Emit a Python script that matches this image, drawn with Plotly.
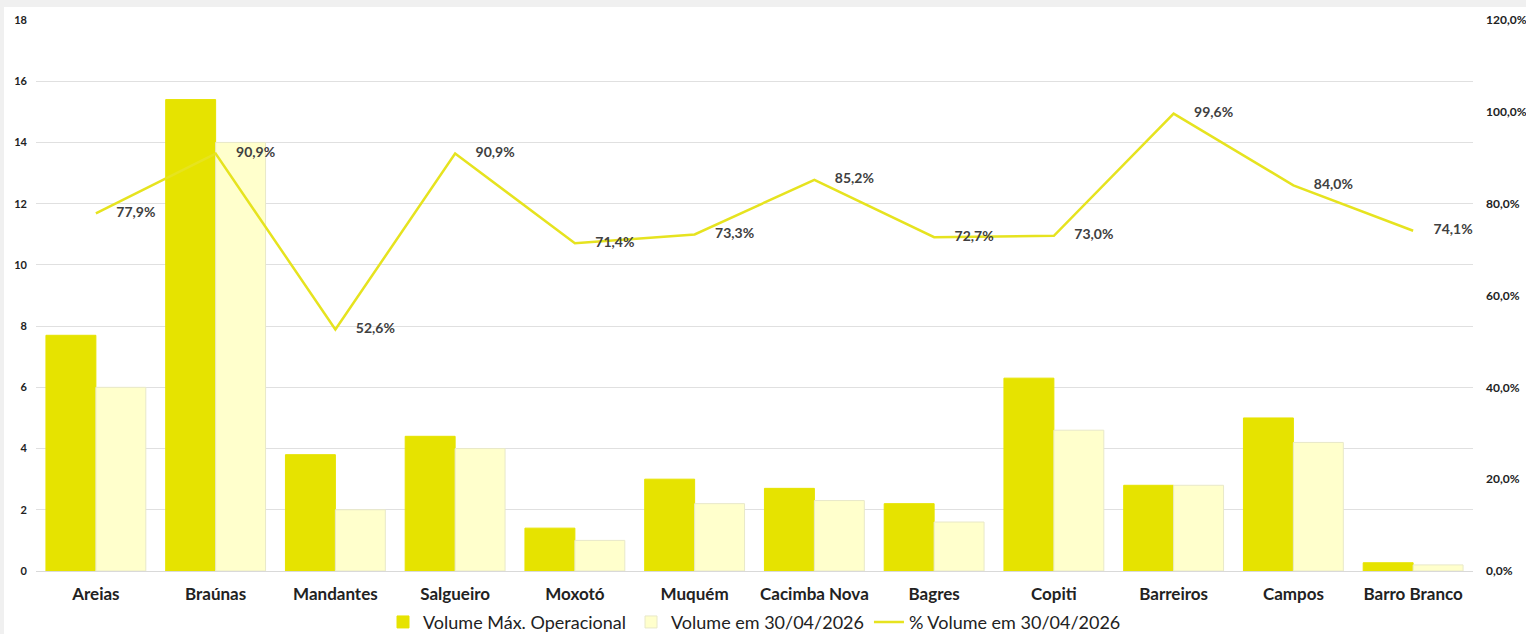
import plotly.graph_objects as go

categories = ["Areias", "Braúnas", "Mandantes", "Salgueiro", "Moxotó", "Muquém",
              "Cacimba Nova", "Bagres", "Copiti", "Barreiros", "Campos", "Barro Branco"]
vol_max = [7.7, 15.4, 3.8, 4.4, 1.4, 3.0, 2.7, 2.2, 6.3, 2.8, 5.0, 0.27]
vol_atual = [6.0, 14.0, 2.0, 4.0, 1.0, 2.2, 2.3, 1.6, 4.6, 2.8, 4.2, 0.2]
pct_atual = [77.9, 90.9, 52.6, 90.9, 71.4, 73.3, 85.2, 72.7, 73.0, 99.6, 84.0, 74.1]

FONT = "Lato"
pct_text = ["\u00a0" * 6 + f"{v:.1f}%".replace(".", ",") for v in pct_atual]

fig = go.Figure()
fig.add_trace(go.Bar(
    x=categories, y=vol_max, name="Volume Máx. Operacional",
    marker=dict(color="#e6e300", line=dict(color="#e6e300", width=1)),
))
fig.add_trace(go.Bar(
    x=categories, y=vol_atual, name="Volume em 30/04/2026",
    marker=dict(color="#ffffcc", line=dict(color="#e8e8c8", width=1)),
))
fig.add_trace(go.Scatter(
    x=categories, y=pct_atual, name="% Volume em 30/04/2026", yaxis="y2",
    mode="lines+text", text=pct_text, textposition="middle right",
    textfont=dict(family=FONT, size=14, color="#404040", weight="bold"),
    line=dict(color="#e6e31f", width=2.5),
    cliponaxis=False,
))

fig.update_layout(
    width=1526, height=634,
    margin=dict(l=36, r=53, t=20, b=63, autoexpand=False),
    paper_bgcolor="#f0f0f0",
    plot_bgcolor="white",
    separators=",.",
    barmode="group",
    bargap=0.166,
    bargroupgap=0,
    font=dict(family=FONT, color="#222222"),
    xaxis=dict(
        automargin=False, range=[-0.5, len(categories) - 0.5], autorange=False,
        showgrid=False, showline=True, linecolor="#d9d9d9", linewidth=1,
        ticks="", tickfont=dict(family=FONT, size=17, color="#222222", weight="bold"),
        ticklabelstandoff=8,
    ),
    yaxis=dict(
        automargin=False,
        range=[0, 18], dtick=2, showgrid=True, gridcolor="#e0e0e0", gridwidth=1,
        zeroline=False, showline=False,
        tickfont=dict(family=FONT, size=11, color="#222222", weight="bold"),
        ticklabelstandoff=8,
    ),
    yaxis2=dict(
        automargin=False,
        range=[0, 120], dtick=20, overlaying="y", side="right", showgrid=False,
        zeroline=False, tickformat=".1f", ticksuffix="%",
        tickfont=dict(family=FONT, size=12, color="#222222", weight="bold"),
        ticklabelstandoff=12,
    ),
    legend=dict(
        orientation="h", x=0.5, xanchor="center", y=-0.093, yanchor="middle",
        font=dict(family=FONT, size=18, color="#222222"),
        bgcolor="rgba(0,0,0,0)", traceorder="normal",
    ),
    showlegend=True,
    shapes=[dict(type="rect", xref="paper", yref="paper",
                 x0=-32/1437, x1=1.05, y0=-0.2, y1=(551+13)/551,
                 fillcolor="white", line=dict(width=0), layer="below")],
)

post = ("document.body.style.margin='0';document.body.style.padding='0';"
        "document.body.style.overflow='hidden';")
fig.write_html("out.html", post_script=post,
               config={"responsive": False, "displayModeBar": False})
